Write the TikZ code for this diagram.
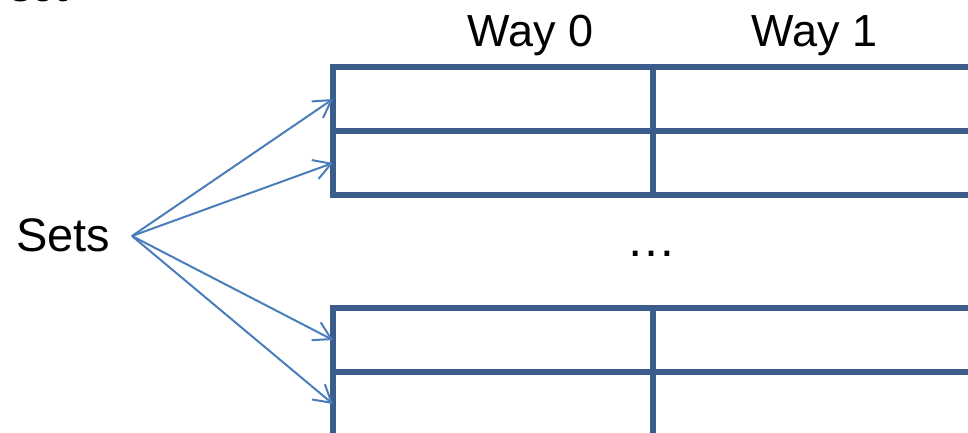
\documentclass[tikz,border=0pt]{standalone}
\usepackage{fontspec}
\setmainfont{Liberation Sans}
\usetikzlibrary{arrows.meta, positioning}
\definecolor{gridblue}{RGB}{59,93,140}
\definecolor{arrowblue}{RGB}{74,126,187}

\begin{document}
\begin{tikzpicture}[x=1pt, y=-1pt,
  cell/.style={draw=gridblue, line width=5.5pt, minimum width=320pt, minimum height=64pt, inner sep=0pt, outer sep=0pt},
  lbl/.style={font=\fontsize{45}{50}\selectfont, inner sep=0pt},
  setarrow/.style={draw=arrowblue, line width=2pt, -{Straight Barb[length=17pt,width=20pt]}}]
\useasboundingbox (0,0) rectangle (968,433);
\clip (0,0) rectangle (968,433);

% title cut off at the top
\node[font=\fontsize{41}{46}\selectfont\bfseries, inner sep=0pt, anchor=base west] (title) at (9,1.5) {set};

% first two sets
\node[cell, anchor=north west] (s0w0) at (333,67) {};
\node[cell, right=0pt of s0w0] (s0w1) {};
\node[cell, below=0pt of s0w0] (s1w0) {};
\node[cell, right=0pt of s1w0] (s1w1) {};

% last two sets
\node[cell, anchor=north west] (s2w0) at (333,308) {};
\node[cell, right=0pt of s2w0] (s2w1) {};
\node[cell, below=0pt of s2w0] (s3w0) {};
\node[cell, right=0pt of s3w0] (s3w1) {};

% labels
\node[lbl, anchor=base west] (way0) at (467,47) {Way 0};
\node[lbl, anchor=base west] (way1) at (751,47) {Way 1};
\node[lbl, font=\fontsize{47}{52}\selectfont, anchor=base west] (sets) at (16,251) {Sets};
\node[lbl, font=\fontsize{50}{55}\selectfont, anchor=base] (dots) at (651,256) {…};

% arrows
\coordinate (src) at (132,236);
\foreach \s in {s0w0, s1w0, s2w0, s3w0}
  \draw[setarrow] (src) -- (\s.west);
\end{tikzpicture}
\end{document}
